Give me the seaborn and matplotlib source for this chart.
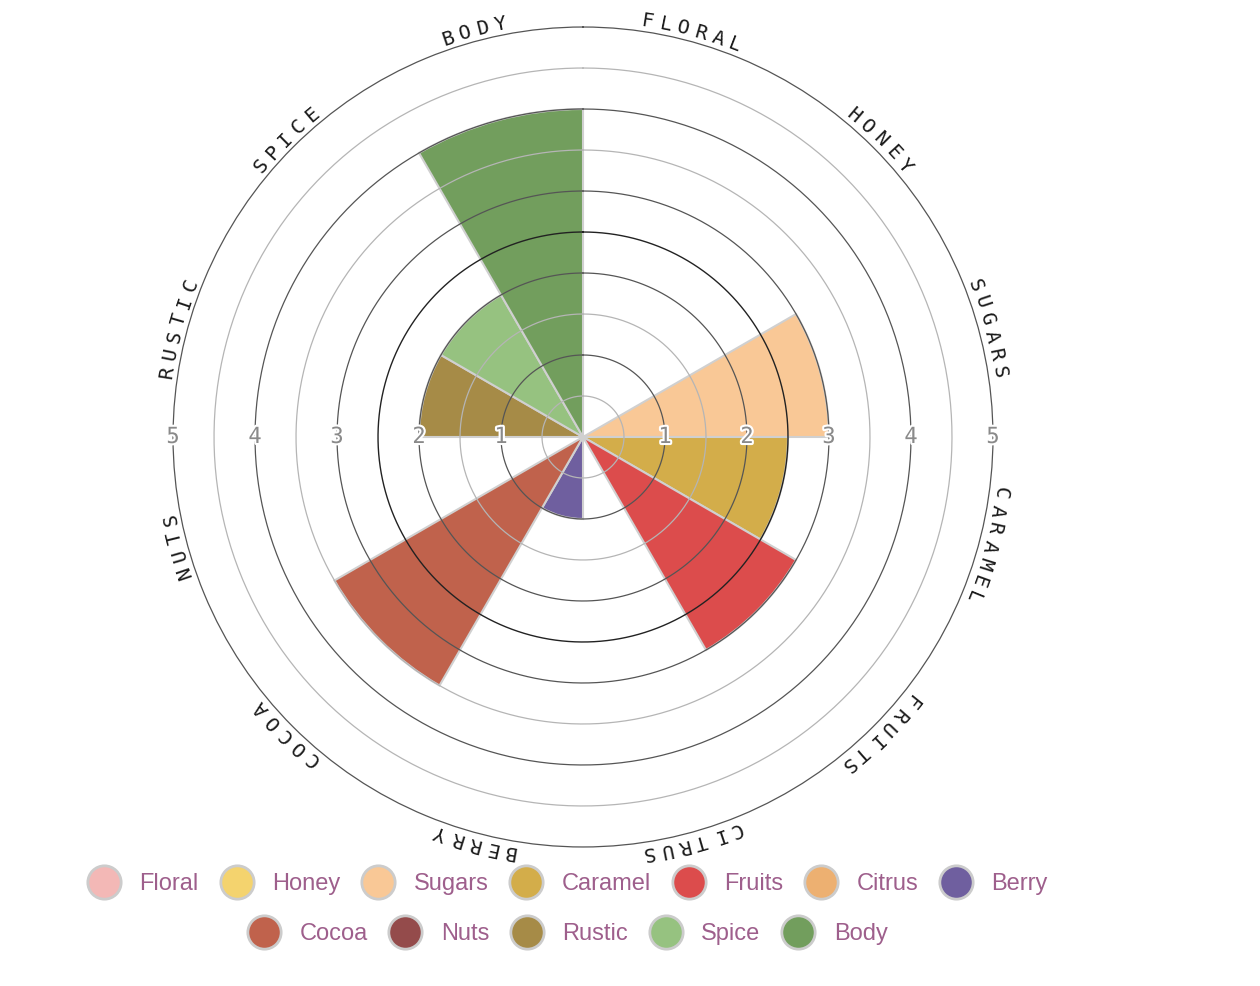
import numpy as np
import pandas as pd
import matplotlib
matplotlib.use("Agg")
import matplotlib.pyplot as plt
import matplotlib.patheffects as pe
from matplotlib.lines import Line2D
import seaborn as sns

# ---------------- data ----------------
categories = ["Floral", "Honey", "Sugars", "Caramel", "Fruits", "Citrus",
              "Berry", "Cocoa", "Nuts", "Rustic", "Spice", "Body"]
values = [0, 0, 3, 2.5, 3, 0, 1, 3.5, 0, 2, 2, 4]
colors = ["#f3b8b6", "#f4d36e", "#f9c896", "#d3ad4a", "#dc4c4c", "#edb071",
          "#6f5f9f", "#c0624c", "#944b4b", "#a68b47", "#96c280", "#729e5d"]
tick_values = [1, 2, 3, 4, 5]

sns.set_style("white")
plt.rcParams["font.family"] = ["DejaVu Sans"]

n = len(categories)
sector = 2 * np.pi / n
thetas = [(i + 0.5) * sector for i in range(n)]
df = pd.DataFrame({"theta": thetas, "value": values, "category": categories})
palette = dict(zip(categories, colors))

fig = plt.figure(figsize=(12.6, 9.86), dpi=100)
ax = fig.add_axes([0.1373, 0.141, 0.6508, 0.8316], projection="polar")
ax.set_theta_zero_location("N")
ax.set_theta_direction(-1)

sns.barplot(data=df, x="theta", y="value", hue="category", palette=palette,
            native_scale=True, width=1.0, dodge=False, legend=False,
            saturation=1, errorbar=None, ax=ax,
            edgecolor="#d0d0d0", linewidth=1.5, zorder=2)

ax.set_ylim(0, 5)
ax.set_xticks([])
ax.set_yticks([])
ax.grid(False)
ax.set_xlabel("")
ax.set_ylabel("")
ax.spines["polar"].set_color("#555555")
ax.spines["polar"].set_linewidth(0.9)

# grid circles drawn above the wedges
tt = np.linspace(0, 2 * np.pi, 400)
for r in np.arange(0.5, 5.0, 0.5):
    if abs(r - 2.5) < 1e-9:
        col, lw = "#222222", 1.0
    elif abs(r - round(r)) < 1e-9:
        col, lw = "#555555", 0.9
    else:
        col, lw = "#b5b5b5", 0.9
    ax.plot(tt, np.full_like(tt, r), color=col, lw=lw, zorder=3)

# radial tick labels on both sides
for v in tick_values:
    for th in (np.pi / 2, 3 * np.pi / 2):
        ax.text(th, v, str(v), ha="center", va="center", fontsize=16,
                family="DejaVu Sans Mono", color="#8a8a8a", zorder=5,
                path_effects=[pe.withStroke(linewidth=3, foreground="white")])

# curved category labels
r_lab = 5.13
r_px = 421.0
step = 18.0 / r_px
for i, cat in enumerate(categories):
    label = cat.upper()
    center = thetas[i]
    m = len(label)
    for k, ch in enumerate(label):
        th = center + (k - (m - 1) / 2) * step
        ax.text(th, r_lab, ch, ha="center", va="center", rotation=-np.degrees(th),
                rotation_mode="anchor", fontsize=14.5, family="DejaVu Sans Mono",
                color="#1a1a1a", clip_on=False)

# legend (two centered rows)
def make_handles(cats):
    return [Line2D([], [], marker="o", ls="", markersize=24,
                   markerfacecolor=palette[c], markeredgecolor="#cccccc",
                   markeredgewidth=2, label=c) for c in cats]

leg_kw = dict(frameon=False, handlelength=1.5, handletextpad=0.75,
              columnspacing=0.85, borderpad=0, borderaxespad=0,
              prop={"family": "Liberation Sans", "size": 17}, labelcolor="#9e5f8c")
row1 = categories[:7]
row2 = categories[7:]
fig.legend(handles=make_handles(row1), ncol=len(row1), loc="center",
           bbox_to_anchor=(567 / 1260, 1 - 884 / 986), **leg_kw)
fig.legend(handles=make_handles(row2), ncol=len(row2), loc="center",
           bbox_to_anchor=(567 / 1260, 1 - 934 / 986), **leg_kw)

fig.savefig("out.png", dpi=100, facecolor="white")
